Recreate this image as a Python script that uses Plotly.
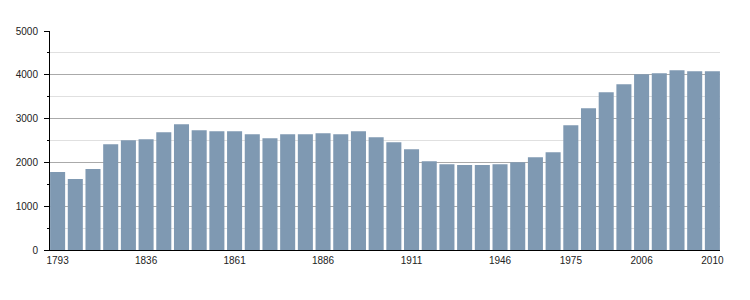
import plotly.graph_objects as go

years = ["1793", "1800", "1806", "1821", "1831", "1836", "1841", "1846", "1851", "1856",
         "1861", "1866", "1872", "1876", "1881", "1886", "1891", "1896", "1901", "1906",
         "1911", "1921", "1926", "1931", "1936", "1946", "1954", "1962", "1968", "1975",
         "1982", "1990", "1999", "2006", "2007", "2008", "2009", "2010"]
population = [1778, 1619, 1847, 2416, 2508, 2530, 2690, 2872, 2736, 2713,
              2713, 2644, 2553, 2644, 2644, 2667, 2644, 2713, 2576, 2462,
              2302, 2029, 1960, 1938, 1938, 1960, 2006, 2120, 2234, 2850,
              3237, 3602, 3784, 4012, 4035, 4103, 4081, 4081]
shown_labels = ["1793", "1836", "1861", "1886", "1911", "1946", "1975", "2006", "2010"]

fig = go.Figure(go.Bar(
    x=list(range(len(years))),
    y=population,
    marker=dict(color="#7f99b2", line=dict(width=0)),
    hoverinfo="skip",
))

tickvals = [years.index(y) for y in shown_labels]

fig.update_layout(
    width=750, height=300,
    margin=dict(l=50, r=30, t=31, b=50),
    paper_bgcolor="white", plot_bgcolor="white",
    bargap=0.15,
    showlegend=False,
    font=dict(family="Liberation Sans, Arial, sans-serif", size=10, color="#222"),
    xaxis=dict(
        range=[-0.43, len(years) - 0.57],
        tickmode="array", tickvals=tickvals, ticktext=shown_labels,
        showgrid=False, zeroline=False,
        showline=True, linecolor="black", linewidth=1,
        ticks="", ticklabelstandoff=1,
    ),
    yaxis=dict(
        range=[0, 5000], dtick=1000,
        showgrid=True, gridcolor="#aaaaaa", gridwidth=1,
        zeroline=False,
        showline=True, linecolor="black", linewidth=1,
        ticks="outside", ticklen=5, tickcolor="black", tickwidth=1,
        minor=dict(dtick=500, showgrid=True, gridcolor="#e0e0e0",
                   ticks="outside", ticklen=2, tickcolor="black"),
        ticklabelstandoff=4,
    ),
)

fig.write_html("out.html")
